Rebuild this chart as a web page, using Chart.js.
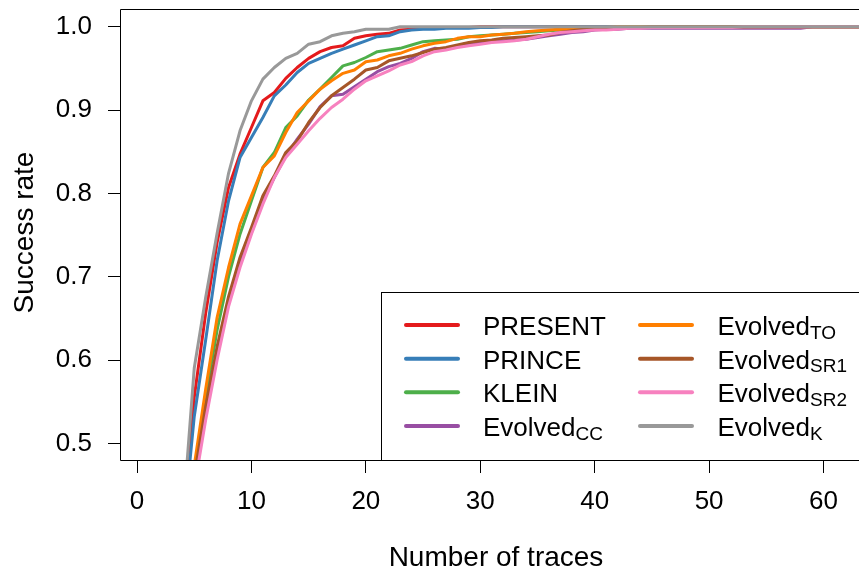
<!DOCTYPE html>
<html>
<head>
<meta charset="utf-8">
<script src="https://cdn.jsdelivr.net/npm/chart.js@4.4.1/dist/chart.umd.min.js"></script>
<style>
  html, body { margin: 0; padding: 0; background: #fff; }
  #wrap { width: 859px; height: 569px; }
</style>
</head>
<body>
<div id="wrap"><canvas id="chart" width="859" height="569"></canvas></div>
<script>
// number of traces (x), one value per series for each
const traces = [
   4,  5,  6,  7,  8,  9, 10, 11, 12, 13,
  14, 15, 16, 17, 18, 19, 20, 21, 22, 23,
  24, 25, 26, 27, 28, 29, 30, 31, 32, 33,
  34, 35, 36, 37, 38, 39, 40, 41, 42, 43,
  44, 45, 46, 47, 48, 49, 50, 51, 52, 53,
  54, 55, 56, 57, 58, 59, 60, 61, 62, 63,
  64
];

const present = [
  0.39, 0.555, 0.656, 0.741, 0.807, 0.847, 0.879, 0.911, 0.921, 0.938,
  0.951, 0.962, 0.970, 0.975, 0.977, 0.986, 0.989, 0.991, 0.992, 0.996,
  0.997, 0.998, 0.998, 0.999, 0.999, 0.999, 1, 1, 1, 1,
  1, 1, 1, 1, 1, 1, 1, 1, 1, 1,
  1, 1, 1, 1, 1, 1, 1, 1, 1, 1,
  1, 1, 1, 1, 1, 1, 1, 1, 1, 1,
  1
];
const prince = [
  0.39, 0.532, 0.624, 0.719, 0.791, 0.843, 0.867, 0.891, 0.917, 0.930,
  0.945, 0.956, 0.962, 0.968, 0.973, 0.978, 0.983, 0.988, 0.989, 0.994,
  0.996, 0.997, 0.997, 0.998, 0.998, 0.998, 0.999, 0.999, 1, 1,
  1, 1, 1, 1, 1, 1, 1, 1, 1, 1,
  1, 1, 1, 1, 1, 1, 1, 1, 1, 1,
  1, 1, 1, 1, 1, 1, 1, 1, 1, 1,
  1
];
const klein = [
  0.33, 0.466, 0.556, 0.636, 0.700, 0.751, 0.791, 0.831, 0.849, 0.879,
  0.893, 0.912, 0.925, 0.939, 0.953, 0.957, 0.963, 0.970, 0.972, 0.974,
  0.978, 0.982, 0.983, 0.984, 0.985, 0.988, 0.989, 0.990, 0.991, 0.992,
  0.993, 0.994, 0.995, 0.996, 0.997, 0.998, 0.998, 0.999, 0.999, 1,
  1, 1, 1, 1, 1, 1, 1, 1, 1, 1,
  1, 1, 1, 1, 1, 1, 1, 1, 1, 1,
  1
];
const evolvedCC = [
  0.31, 0.451, 0.540, 0.608, 0.670, 0.716, 0.753, 0.791, 0.819, 0.845,
  0.865, 0.883, 0.904, 0.917, 0.919, 0.928, 0.937, 0.946, 0.952, 0.956,
  0.962, 0.970, 0.974, 0.973, 0.977, 0.980, 0.981, 0.982, 0.983, 0.984,
  0.985, 0.987, 0.989, 0.991, 0.993, 0.994, 0.996, 0.997, 0.997, 0.998,
  0.998, 0.998, 0.998, 0.998, 0.998, 0.998, 0.998, 0.998, 0.998, 0.998,
  0.998, 0.998, 0.998, 0.998, 0.998, 1, 1, 1, 1, 1,
  1
];
const evolvedTO = [
  0.34, 0.473, 0.565, 0.651, 0.711, 0.763, 0.797, 0.831, 0.845, 0.873,
  0.897, 0.911, 0.925, 0.935, 0.944, 0.948, 0.958, 0.960, 0.965, 0.968,
  0.973, 0.977, 0.980, 0.982, 0.986, 0.988, 0.988, 0.990, 0.991, 0.992,
  0.994, 0.995, 0.996, 0.997, 0.997, 0.998, 0.999, 0.999, 1, 1,
  1, 1, 1, 1, 1, 1, 1, 1, 1, 1,
  1, 1, 1, 1, 1, 1, 1, 1, 1, 1,
  1
];
const evolvedSR1 = [
  0.32, 0.460, 0.544, 0.616, 0.676, 0.723, 0.759, 0.797, 0.821, 0.849,
  0.863, 0.885, 0.903, 0.917, 0.927, 0.937, 0.948, 0.951, 0.959, 0.962,
  0.965, 0.969, 0.973, 0.975, 0.978, 0.981, 0.983, 0.984, 0.986, 0.987,
  0.988, 0.989, 0.990, 0.993, 0.995, 0.997, 0.997, 0.998, 0.998, 0.999,
  0.999, 1, 1, 1, 1, 1, 1, 1, 1, 1,
  1, 1, 1, 1, 1, 1, 1, 1, 1, 1,
  1
];
const evolvedSR2 = [
  0.30, 0.446, 0.528, 0.600, 0.664, 0.711, 0.751, 0.787, 0.819, 0.843,
  0.859, 0.875, 0.890, 0.903, 0.913, 0.925, 0.935, 0.941, 0.947, 0.954,
  0.958, 0.965, 0.970, 0.972, 0.975, 0.977, 0.979, 0.981, 0.982, 0.983,
  0.985, 0.988, 0.991, 0.993, 0.994, 0.995, 0.996, 0.996, 0.997, 0.998,
  0.998, 0.999, 0.999, 0.999, 0.999, 0.999, 0.999, 0.999, 0.999, 1,
  1, 1, 1, 1, 1, 1, 1, 1, 1, 1,
  1
];
const evolvedK = [
  0.41, 0.59, 0.675, 0.752, 0.824, 0.875, 0.911, 0.937, 0.951, 0.962,
  0.968, 0.979, 0.982, 0.989, 0.992, 0.994, 0.997, 0.997, 0.997, 1,
  1, 1, 1, 1, 1, 1, 1, 1, 1, 1,
  1, 1, 1, 1, 1, 1, 1, 1, 1, 1,
  1, 1, 1, 1, 1, 1, 1, 1, 1, 1,
  1, 1, 1, 1, 1, 1, 1, 1, 1, 1,
  1
];

// "_" marks the subscript part of a legend label
const labels = ['PRESENT', 'PRINCE', 'KLEIN', 'Evolved_CC', 'Evolved_TO', 'Evolved_SR1', 'Evolved_SR2', 'Evolved_K'];
const series = [present, prince, klein, evolvedCC, evolvedTO, evolvedSR1, evolvedSR2, evolvedK];
const colors = ['#E41A1C', '#377EB8', '#4DAF4A', '#984EA3', '#FF7F00', '#A65628', '#F781BF', '#999999'];

const xTicks = [0, 10, 20, 30, 40, 50, 60];
const yTicks = [0.5, 0.6, 0.7, 0.8, 0.9, 1.0];

const FONT = "'Liberation Sans', Arial, Helvetica, sans-serif";

// box, legend with subscripts and axis titles, R base-graphics style
const rFrame = {
    id: 'rFrame',
    afterDraw(chart) {
        const { ctx, chartArea: a } = chart;
        ctx.save();
        ctx.strokeStyle = '#000';
        ctx.lineWidth = 1;
        ctx.beginPath();
        ctx.moveTo(a.right + 5, a.top - 0.5);
        ctx.lineTo(a.left - 0.5, a.top - 0.5);
        ctx.lineTo(a.left - 0.5, a.bottom + 0.5);
        ctx.lineTo(a.right + 5, a.bottom + 0.5);
        ctx.stroke();

        // legend box
        const lx = 381.5, ly = 292.5;
        ctx.fillStyle = '#fff';
        ctx.fillRect(lx, ly, a.right - lx + 5, a.bottom + 0.5 - ly);
        ctx.strokeRect(lx, ly, a.right - lx + 20, a.bottom + 0.5 - ly);

        const cols = [{ l0: 406, l1: 458, tx: 483 }, { l0: 640, l1: 692, tx: 717.5 }];
        chart.data.datasets.forEach((ds, i) => {
            const c = cols[Math.floor(i / 4)];
            const y = 325 + (i % 4) * 33.67;
            ctx.strokeStyle = ds.borderColor;
            ctx.lineWidth = 4;
            ctx.lineCap = 'round';
            ctx.beginPath();
            ctx.moveTo(c.l0, y);
            ctx.lineTo(c.l1, y);
            ctx.stroke();

            const [main, sub] = ds.label.split('_');
            ctx.fillStyle = '#000';
            ctx.textAlign = 'left';
            ctx.textBaseline = 'alphabetic';
            ctx.font = '26px ' + FONT;
            ctx.fillText(main, c.tx, y + 10);
            if (sub) {
                const w = ctx.measureText(main).width;
                ctx.font = '19px ' + FONT;
                ctx.fillText(sub, c.tx + w, y + 13.5);
            }
        });

        // axis titles
        ctx.fillStyle = '#000';
        ctx.font = '28px ' + FONT;
        ctx.textAlign = 'center';
        ctx.textBaseline = 'alphabetic';
        ctx.fillText('Number of traces', 496, 566);
        ctx.translate(33, 232.5);
        ctx.rotate(-Math.PI / 2);
        ctx.fillText('Success rate', 0, 0);
        ctx.restore();
    }
};

new Chart(document.getElementById('chart'), {
    type: 'line',
    data: {
        datasets: series.map((vals, i) => ({
            label: labels[i],
            data: vals.map((v, j) => ({ x: traces[j], y: v })),
            borderColor: colors[i],
            backgroundColor: colors[i],
            borderWidth: 3,
            borderJoinStyle: 'round',
            borderCapStyle: 'round',
            pointRadius: 0,
            tension: 0,
            fill: false,
            order: series.length - 1 - i
        }))
    },
    options: {
        responsive: false,
        animation: false,
        devicePixelRatio: 1,
        layout: { padding: { top: 10, right: 0, bottom: 0, left: 0 } },
        plugins: { legend: { display: false }, tooltip: { enabled: false } },
        scales: {
            x: {
                type: 'linear',
                min: -1.4,
                max: 63.1,
                afterBuildTicks: s => { s.ticks = xTicks.map(v => ({ value: v })); },
                afterFit: s => { s.height = 109; s.paddingLeft = 0; s.paddingRight = 0; },
                grid: { drawOnChartArea: false, drawTicks: true, tickLength: 13, color: '#000' },
                border: { display: false },
                ticks: { color: '#000', font: { family: FONT, size: 26 }, padding: 13, maxRotation: 0, autoSkip: false }
            },
            y: {
                min: 0.48,
                max: 1.02,
                afterBuildTicks: s => { s.ticks = yTicks.map(v => ({ value: v })); },
                afterFit: s => { s.width = 121; s.paddingTop = 0; s.paddingBottom = 0; },
                grid: { drawOnChartArea: false, drawTicks: true, tickLength: 13, color: '#000' },
                border: { display: false },
                ticks: { color: '#000', font: { family: FONT, size: 26 }, padding: 16, callback: v => v.toFixed(1) }
            }
        }
    },
    plugins: [rFrame]
});
</script>
</body>
</html>
